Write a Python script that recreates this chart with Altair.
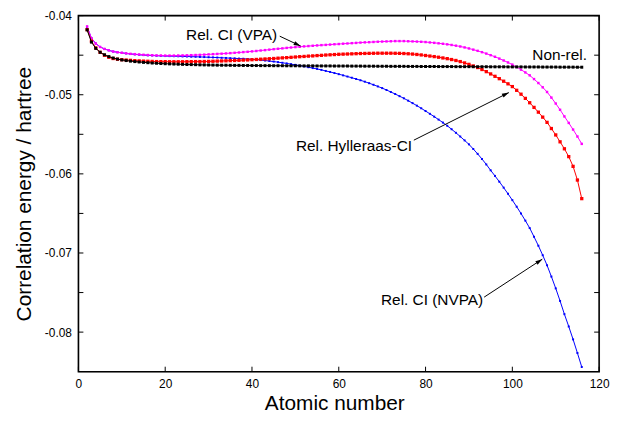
import math
import altair as alt
import pandas as pd

# ---------------- data ----------------
Z = list(range(2, 117))

nonrel = [
    -0.04180, -0.04335, -0.04414, -0.04463, -0.04495, -0.04518, -0.04536, -0.04549, -0.04560,
    -0.04568, -0.04575, -0.04581, -0.04586, -0.04591, -0.04595, -0.04599, -0.04602, -0.04605, -0.04608,
    -0.04610, -0.04612, -0.04614, -0.04616, -0.04618, -0.04619, -0.04620, -0.04622, -0.04623, -0.04624,
    -0.04625, -0.04626, -0.04627, -0.04627, -0.04628, -0.04629, -0.04629, -0.04630, -0.04630, -0.04631,
    -0.04631, -0.04632, -0.04632, -0.04632, -0.04633, -0.04633, -0.04633, -0.04634, -0.04634, -0.04634,
    -0.04635, -0.04635, -0.04635, -0.04635, -0.04636, -0.04636, -0.04636, -0.04636, -0.04637, -0.04637,
    -0.04637, -0.04637, -0.04638, -0.04638, -0.04638, -0.04639, -0.04639, -0.04639, -0.04640, -0.04640,
    -0.04640, -0.04641, -0.04641, -0.04641, -0.04641, -0.04642, -0.04642, -0.04642, -0.04643, -0.04643,
    -0.04643, -0.04643, -0.04644, -0.04644, -0.04644, -0.04644, -0.04645, -0.04645, -0.04645, -0.04645,
    -0.04646, -0.04646, -0.04646, -0.04646, -0.04647, -0.04647, -0.04647, -0.04647, -0.04648, -0.04648,
    -0.04648, -0.04648, -0.04649, -0.04649, -0.04649, -0.04649, -0.04650, -0.04650, -0.04650, -0.04650,
    -0.04651, -0.04651, -0.04651, -0.04651, -0.04652, -0.04652,
]

vpa = [
    -0.04136, -0.04285, -0.04353, -0.04396, -0.04421, -0.04439, -0.04454, -0.04463, -0.04470,
    -0.04477, -0.04483, -0.04487, -0.04491, -0.04495, -0.04498, -0.04501, -0.04503, -0.04504, -0.04505,
    -0.04505, -0.04505, -0.04504, -0.04503, -0.04502, -0.04500, -0.04498, -0.04496, -0.04493, -0.04490,
    -0.04487, -0.04484, -0.04481, -0.04478, -0.04474, -0.04470, -0.04466, -0.04461, -0.04457, -0.04452,
    -0.04447, -0.04441, -0.04436, -0.04430, -0.04424, -0.04419, -0.04414, -0.04408, -0.04403, -0.04398,
    -0.04394, -0.04389, -0.04385, -0.04381, -0.04377, -0.04373, -0.04370, -0.04366, -0.04362, -0.04359,
    -0.04355, -0.04352, -0.04348, -0.04345, -0.04341, -0.04338, -0.04336, -0.04333, -0.04330, -0.04328,
    -0.04326, -0.04324, -0.04322, -0.04322, -0.04322, -0.04324, -0.04326, -0.04328, -0.04331, -0.04334,
    -0.04339, -0.04344, -0.04350, -0.04356, -0.04363, -0.04371, -0.04380, -0.04390, -0.04402, -0.04415,
    -0.04430, -0.04445, -0.04462, -0.04480, -0.04500, -0.04520, -0.04543, -0.04567, -0.04592, -0.04619,
    -0.04650, -0.04683, -0.04718, -0.04755, -0.04802, -0.04852, -0.04906, -0.04965, -0.05036, -0.05111,
    -0.05190, -0.05274, -0.05356, -0.05440, -0.05528, -0.05621,
]

hyll = [
    -0.04177, -0.04322, -0.04408, -0.04464, -0.04501, -0.04526, -0.04542, -0.04551, -0.04557,
    -0.04561, -0.04565, -0.04569, -0.04572, -0.04575, -0.04577, -0.04579, -0.04581, -0.04582, -0.04582,
    -0.04583, -0.04583, -0.04583, -0.04583, -0.04582, -0.04582, -0.04581, -0.04581, -0.04580, -0.04579,
    -0.04577, -0.04575, -0.04573, -0.04571, -0.04569, -0.04567, -0.04565, -0.04562, -0.04560, -0.04557,
    -0.04554, -0.04551, -0.04548, -0.04545, -0.04542, -0.04538, -0.04534, -0.04531, -0.04527, -0.04523,
    -0.04519, -0.04516, -0.04512, -0.04509, -0.04505, -0.04502, -0.04498, -0.04495, -0.04492, -0.04489,
    -0.04487, -0.04485, -0.04483, -0.04481, -0.04479, -0.04478, -0.04477, -0.04476, -0.04475, -0.04475,
    -0.04475, -0.04475, -0.04476, -0.04477, -0.04479, -0.04482, -0.04486, -0.04491, -0.04497, -0.04504,
    -0.04511, -0.04518, -0.04526, -0.04535, -0.04544, -0.04555, -0.04567, -0.04581, -0.04598, -0.04616,
    -0.04636, -0.04656, -0.04681, -0.04708, -0.04737, -0.04767, -0.04797, -0.04829, -0.04862, -0.04897,
    -0.04944, -0.04993, -0.05046, -0.05101, -0.05160, -0.05220, -0.05283, -0.05349, -0.05427, -0.05508,
    -0.05595, -0.05683, -0.05782, -0.05905, -0.06078, -0.06313,
]

nvpa = [
    -0.04142, -0.04285, -0.04353, -0.04396, -0.04421, -0.04439, -0.04454, -0.04463, -0.04470,
    -0.04478, -0.04485, -0.04490, -0.04495, -0.04499, -0.04502, -0.04504, -0.04507, -0.04509, -0.04511,
    -0.04512, -0.04513, -0.04514, -0.04516, -0.04517, -0.04519, -0.04520, -0.04522, -0.04524, -0.04526,
    -0.04528, -0.04530, -0.04533, -0.04535, -0.04538, -0.04540, -0.04543, -0.04545, -0.04548, -0.04551,
    -0.04556, -0.04562, -0.04568, -0.04574, -0.04581, -0.04588, -0.04596, -0.04604, -0.04613, -0.04622,
    -0.04632, -0.04642, -0.04652, -0.04663, -0.04674, -0.04686, -0.04699, -0.04712, -0.04726, -0.04740,
    -0.04755, -0.04770, -0.04785, -0.04801, -0.04817, -0.04835, -0.04854, -0.04874, -0.04895, -0.04916,
    -0.04940, -0.04965, -0.04991, -0.05018, -0.05045, -0.05075, -0.05106, -0.05138, -0.05171, -0.05206,
    -0.05241, -0.05277, -0.05314, -0.05352, -0.05392, -0.05436, -0.05481, -0.05528, -0.05577, -0.05627,
    -0.05686, -0.05747, -0.05812, -0.05881, -0.05955, -0.06026, -0.06099, -0.06174, -0.06252, -0.06332,
    -0.06415, -0.06501, -0.06591, -0.06685, -0.06795, -0.06908, -0.07028, -0.07155, -0.07298, -0.07447,
    -0.07606, -0.07773, -0.07929, -0.08092, -0.08264, -0.08441,
]

for s in (nonrel, vpa, hyll, nvpa):
    assert len(s) == len(Z)

x_ticks = [0, 20, 40, 60, 80, 100, 120]
y_ticks = [-0.08, -0.075, -0.07, -0.065, -0.06, -0.055, -0.05, -0.045, -0.04]

# annotations (data coordinates)
label_text = ["Rel. CI (VPA)", "Non-rel.", "Rel. Hylleraas-CI", "Rel. CI (NVPA)"]
label_x = [35.3, 110.9, 63.5, 81.5]
label_y = [-0.04248, -0.04496, -0.05649, -0.07595]

arrow_x1 = [46.4, 77.3, 93.5]
arrow_y1 = [-0.04260, -0.05574, -0.07558]
arrow_x2 = [51.2, 99.2, 106.9]
arrow_y2 = [-0.04384, -0.04973, -0.07078]

# ---------------- chart ----------------
W, H = 525, 359
XDOM = [0, 120]
YDOM = [-0.085, -0.04]
FONT = "Liberation Sans"
TICK = 5

xs = alt.Scale(domain=XDOM, nice=False, zero=False)
ys = alt.Scale(domain=YDOM, nice=False, zero=False)

common_axis = dict(
    grid=False, domain=False, ticks=False,
    labelFont=FONT, labelFontSize=12, labelColor="black",
    labelFlush=False, labelOverlap=False, labelBound=False,
    titleFont=FONT, titleFontSize=21, titleFontWeight="normal", titleColor="black",
)

x_axis = alt.Axis(orient="bottom", values=x_ticks, title="Atomic number",
                  labelPadding=7, titleX=258, titleY=38, titleBaseline="alphabetic",
                  titleAlign="center", **common_axis)
y_axis = alt.Axis(orient="left", values=y_ticks, title="Correlation energy / hartree",
                  labelPadding=7, titleX=-48, titleY=H / 2, titleAngle=-90,
                  titleBaseline="alphabetic", titleAlign="center",
                  labelExpr="abs(datum.value*200 - round(datum.value*100)*2) < 0.1 ? '-0.0' + round(-datum.value*100) : ''",
                  **common_axis)


def series(vals, color, size, width=1.0, axes=False):
    df = pd.DataFrame({"Z": Z, "E": vals})
    xa, ya = (x_axis, y_axis) if axes else (None, None)
    return alt.Chart(df).mark_line(
        color=color, strokeWidth=width,
        point=alt.OverlayMarkDef(shape="square", size=size, filled=True, color=color, opacity=1),
    ).encode(
        x=alt.X("Z:Q", scale=xs, axis=xa),
        y=alt.Y("E:Q", scale=ys, axis=ya),
    )


blue = series(nvpa, "#0000ff", 4, axes=True)
mag = series(vpa, "#ff00ff", 6)
red = series(hyll, "#ff0000", 11)
black = series(nonrel, "#000000", 9)

# inward tick marks on all four sides, from the tick arrays
xt_df = pd.DataFrame({"v": x_ticks})
yt_df = pd.DataFrame({"v": y_ticks})
tick_style = dict(color="black", strokeWidth=1)
xt_bottom = alt.Chart(xt_df).mark_rule(**tick_style).encode(
    x=alt.X("v:Q", scale=xs, axis=None), y=alt.value(H), y2=alt.value(H - TICK))
xt_top = alt.Chart(xt_df).mark_rule(**tick_style).encode(
    x=alt.X("v:Q", scale=xs, axis=None), y=alt.value(0), y2=alt.value(TICK))
yt_left = alt.Chart(yt_df).mark_rule(**tick_style).encode(
    y=alt.Y("v:Q", scale=ys, axis=None), x=alt.value(0), x2=alt.value(TICK))
yt_right = alt.Chart(yt_df).mark_rule(**tick_style).encode(
    y=alt.Y("v:Q", scale=ys, axis=None), x=alt.value(W), x2=alt.value(W - TICK))

# frame around the plot area
frame = alt.Chart(pd.DataFrame({"k": [0]})).mark_rect(
    fill=None, stroke="black", strokeWidth=1.6
).encode(x=alt.value(0), x2=alt.value(W), y=alt.value(0), y2=alt.value(H))

lab_df = pd.DataFrame({"t": label_text, "x": label_x, "y": label_y})
labels = alt.Chart(lab_df).mark_text(
    font=FONT, fontSize=15.5, color="black", align="center", baseline="middle"
).encode(
    x=alt.X("x:Q", scale=xs, axis=None),
    y=alt.Y("y:Q", scale=ys, axis=None),
    text="t:N",
)

px_per_x = W / (XDOM[1] - XDOM[0])
px_per_y = H / (YDOM[1] - YDOM[0])
angles = []
for a, b, c, d in zip(arrow_x1, arrow_y1, arrow_x2, arrow_y2):
    dx = (c - a) * px_per_x
    dy = -(d - b) * px_per_y
    angles.append(math.degrees(math.atan2(dx, -dy)) % 360)

arr_df = pd.DataFrame({"x1": arrow_x1, "y1": arrow_y1, "x2": arrow_x2, "y2": arrow_y2, "ang": angles})
arrow_lines = alt.Chart(arr_df).mark_rule(color="black", strokeWidth=1).encode(
    x=alt.X("x1:Q", scale=xs, axis=None),
    y=alt.Y("y1:Q", scale=ys, axis=None),
    x2="x2:Q",
    y2="y2:Q",
)
arrow_heads = alt.Chart(arr_df).mark_point(
    shape="M0,0L0.6,2L-0.6,2Z", size=49, filled=True, color="black", opacity=1
).encode(
    x=alt.X("x2:Q", scale=xs, axis=None),
    y=alt.Y("y2:Q", scale=ys, axis=None),
    angle=alt.Angle("ang:Q", scale=None),
)

chart = alt.layer(
    blue, mag, red, black, xt_bottom, xt_top, yt_left, yt_right, frame,
    labels, arrow_lines, arrow_heads
).resolve_axis(
    x="independent", y="independent"
).properties(
    width=W, height=H,
    autosize=alt.AutoSizeParams(type="none"),
    padding={"left": 71, "top": 6, "right": 14, "bottom": 42},
).configure_view(
    stroke=None
).configure(background="white")

chart.save("out.html", embed_options={"renderer": "svg", "actions": False})
